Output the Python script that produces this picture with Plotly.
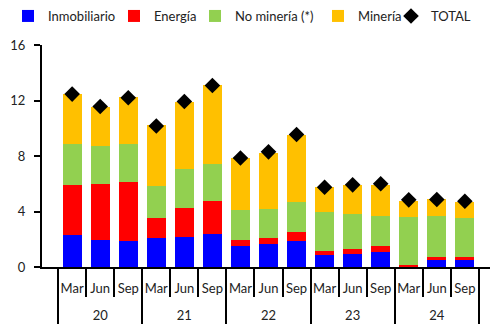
import plotly.graph_objects as go

years = ["20", "20", "20", "21", "21", "21", "22", "22", "22", "23", "23", "23", "24", "24", "24"]
months = ["Mar", "Jun", "Sep"] * 5

inmobiliario = [2.29, 1.95, 1.85, 2.12, 2.19, 2.38, 1.52, 1.66, 1.85, 0.87, 0.96, 1.06, 0.05, 0.53, 0.53]
energia = [3.61, 4.05, 4.26, 1.42, 2.07, 2.38, 0.43, 0.43, 0.70, 0.28, 0.34, 0.46, 0.12, 0.17, 0.17]
no_mineria = [2.97, 2.69, 2.76, 2.33, 2.77, 2.67, 2.19, 2.07, 2.14, 2.82, 2.52, 2.19, 3.44, 3.01, 2.84]
mineria = [3.63, 2.83, 3.37, 4.33, 4.85, 5.67, 3.72, 4.07, 4.79, 1.78, 2.12, 2.23, 1.18, 1.17, 1.15]
total = [12.46, 11.57, 12.2, 10.16, 11.93, 13.08, 7.86, 8.3, 9.55, 5.75, 5.92, 6.0, 4.84, 4.86, 4.74]

# year labels pushed to a second text line so they sit below the month row
year_labels = ["<br>" + y for y in years]
x = [year_labels, months]
font = "Lato"

# page body adds an 8px offset, so the figure is drawn 8px smaller
W, H = 490, 318
OFF = 8

series = [
    ("Inmobiliario", inmobiliario, "#0000FF", 46),
    ("Energía", energia, "#FF0000", 154),
    ("No minería (*)", no_mineria, "#92D050", 235),
    ("Minería", mineria, "#FFC000", 358),
]


def legend_box(text_start):
    return dict(orientation="h", x=(text_start - OFF - 40) / W, xanchor="left", xref="container",
                y=1 - (16 - OFF) / H, yanchor="middle", yref="container",
                font=dict(size=13), itemwidth=30, bgcolor="rgba(0,0,0,0)")


fig = go.Figure()
legend_layout = {}
for i, (name, vals, col, tx) in enumerate(series):
    lg = "legend" if i == 0 else f"legend{i+1}"
    fig.add_trace(go.Bar(x=x, y=vals, name=name, legend=lg,
                         marker=dict(color=col, line=dict(width=0))))
    legend_layout[lg] = legend_box(tx)

fig.add_trace(go.Scatter(x=x, y=total, name="TOTAL", mode="markers", legend="legend5",
                         marker=dict(symbol="diamond", size=12, color="black")))
legend_layout["legend5"] = legend_box(431)

fig.update_layout(
    width=W, height=H,
    barmode="stack", bargap=0.32,
    plot_bgcolor="white", paper_bgcolor="white",
    margin=dict(l=42 - OFF, r=3, t=45 - OFF, b=H - (267 - OFF), autoexpand=False),
    font=dict(family=font, size=13, color="#222"),
    showlegend=True,
    **legend_layout,
)
fig.update_yaxes(range=[0, 16], tickvals=[0, 4, 8, 12, 16], showgrid=False, zeroline=False,
                 showline=True, linecolor="black", linewidth=2, ticks="outside",
                 ticklen=6, tickcolor="black", tickwidth=2, tickfont=dict(size=13),
                 ticklabelstandoff=6, automargin=False)
fig.update_xaxes(type="multicategory", showgrid=False, showline=True, linecolor="black",
                 linewidth=2, ticks="outside", ticklen=28, tickcolor="black", tickwidth=2,
                 ticklabelstandoff=8, tickangle=0, automargin=False,
                 showdividers=True, dividercolor="black", dividerwidth=2,
                 tickfont=dict(size=13))

fig.write_html("out.html")
